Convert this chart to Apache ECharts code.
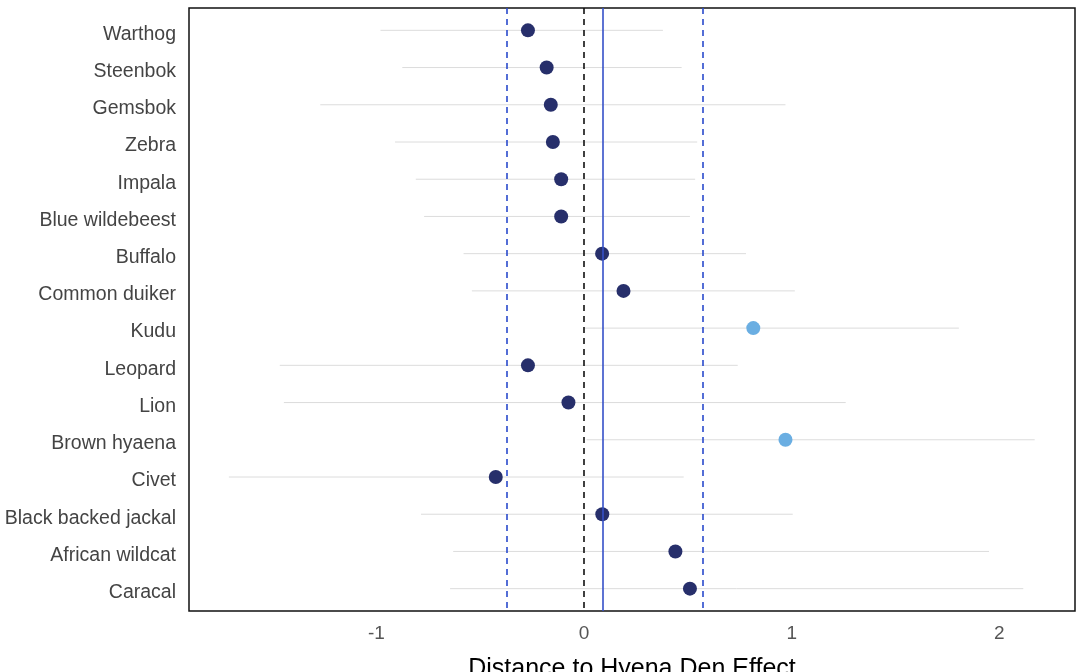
<!DOCTYPE html>
<html>
<head>
<meta charset="utf-8">
<title>Distance to Hyena Den Effect</title>
<script src="https://cdn.jsdelivr.net/npm/echarts@6/dist/echarts.min.js"></script>
<style>
    html, body { margin: 0; padding: 0; background: #fff; }
    #chart { width: 1076px; height: 672px; }
</style>
</head>
<body>
<div id="chart"></div>
<script>
// species, top to bottom
var species = ['Warthog', 'Steenbok', 'Gemsbok', 'Zebra', 'Impala', 'Blue wildebeest', 'Buffalo',
    'Common duiker', 'Kudu', 'Leopard', 'Lion', 'Brown hyaena', 'Civet', 'Black backed jackal',
    'African wildcat', 'Caracal'];
// point estimates
var estimate = [-0.27, -0.18, -0.16, -0.15, -0.11, -0.11, 0.087, 0.19, 0.815, -0.27, -0.075, 0.97,
    -0.425, 0.088, 0.44, 0.51];
// interval ends
var lower = [-0.98, -0.875, -1.27, -0.91, -0.81, -0.77, -0.58, -0.54, 0.005, -1.465, -1.445, 0.012,
    -1.71, -0.785, -0.63, -0.645];
var upper = [0.38, 0.47, 0.97, 0.545, 0.535, 0.51, 0.78, 1.015, 1.805, 0.74, 1.26, 2.17, 0.48,
    1.005, 1.95, 2.115];
// 1 = highlighted (light blue)
var flagged = [0, 0, 0, 0, 0, 0, 0, 0, 1, 0, 0, 1, 0, 0, 0, 0];
// reference lines: zero, mean, mean +/- spread
var zeroLine = 0;
var meanLine = 0.085;
var bandLines = [-0.372, 0.57];
var xTicks = [-1, 0, 1, 2];

var rowIdx = species.map(function (s, i) { return i; });
var font = 'Liberation Sans, Arial, sans-serif';

var chart = echarts.init(document.getElementById('chart'));

chart.setOption({
    animation: false,
    grid: {
        left: 189, right: 1, top: 8, bottom: 61,
        outerBoundsMode: 'none',
        containLabel: false,
        show: true, borderColor: '#111', borderWidth: 1.5, backgroundColor: '#fff'
    },
    xAxis: {
        type: 'value',
        min: -1.902, max: 2.364,
        axisLine: { show: false },
        axisTick: { show: false },
        splitLine: { show: false },
        axisLabel: {
            customValues: xTicks,
            margin: 13,
            fontSize: 19,
            color: '#555',
            fontFamily: font
        },
        name: 'Distance to Hyena Den Effect',
        nameLocation: 'middle',
        nameGap: 46,
        nameTextStyle: { fontSize: 25, color: '#000', fontFamily: font }
    },
    yAxis: {
        type: 'value',
        inverse: true,
        min: -0.6, max: 15.6,
        axisLine: { show: false },
        axisTick: { show: false },
        splitLine: { show: false },
        axisLabel: {
            customValues: rowIdx,
            margin: 13,
            fontSize: 19.5,
            color: '#444',
            fontFamily: font,
            verticalAlign: 'middle',
            formatter: function (v) { return '{s|' + (species[Math.round(v)] || '') + '}'; },
            rich: {
                s: { fontSize: 19.5, color: '#444', fontFamily: font, padding: [8, 0, 0, 0] }
            }
        }
    },
    series: [
        {
            // interval segments
            type: 'custom',
            silent: true,
            z: 1,
            data: rowIdx.map(function (i) { return [lower[i], upper[i], i]; }),
            encode: { x: [0, 1], y: 2 },
            renderItem: function (params, api) {
                var a = api.coord([api.value(0), api.value(2)]);
                var b = api.coord([api.value(1), api.value(2)]);
                return {
                    type: 'line',
                    shape: { x1: a[0], y1: a[1], x2: b[0], y2: b[1] },
                    style: { stroke: '#dcdcdc', lineWidth: 1 }
                };
            }
        },
        {
            type: 'line',
            data: [],
            z: 2,
            markLine: {
                silent: true,
                symbol: 'none',
                label: { show: false },
                data: [
                    { xAxis: zeroLine, lineStyle: { color: '#111', type: [6, 5], width: 1.6 } },
                    { xAxis: meanLine, lineStyle: { color: '#3550c8', type: 'solid', width: 1.6 } },
                    { xAxis: bandLines[0], lineStyle: { color: '#2a4acc', type: [6, 5], width: 1.6 } },
                    { xAxis: bandLines[1], lineStyle: { color: '#2a4acc', type: [6, 5], width: 1.6 } }
                ]
            }
        },
        {
            type: 'scatter',
            z: 3,
            symbolSize: 14,
            data: rowIdx.map(function (i) { return [estimate[i], i]; }),
            itemStyle: {
                opacity: 1,
                color: function (p) { return flagged[p.dataIndex] ? '#6aaee2' : '#272f6b'; }
            }
        }
    ]
});
</script>
</body>
</html>
